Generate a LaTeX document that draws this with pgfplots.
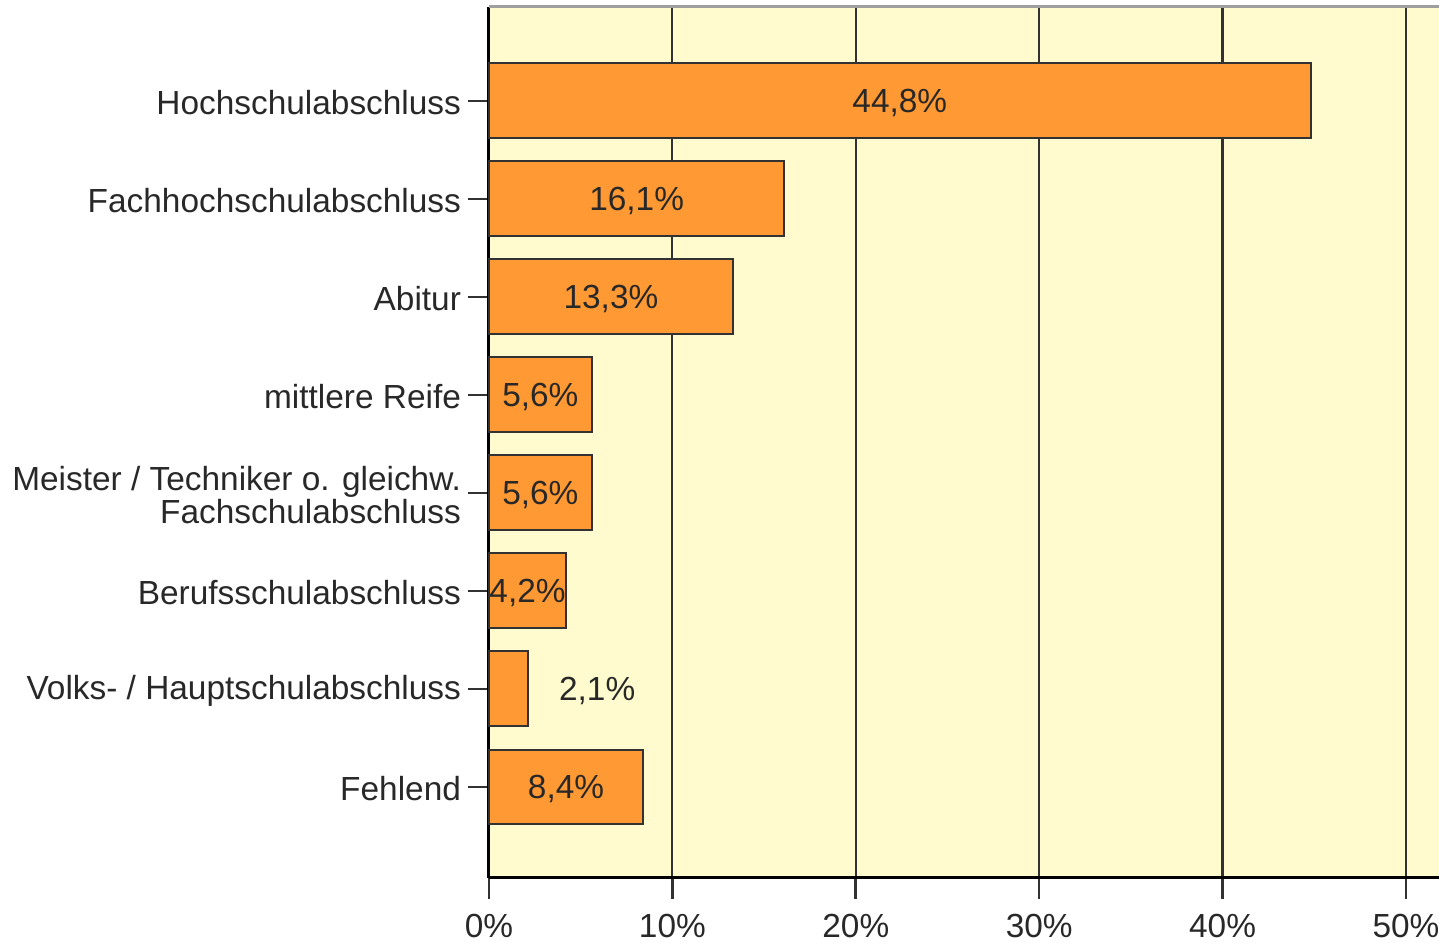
\documentclass[border=0pt]{standalone}
\usepackage{fontspec}
\setmainfont{Liberation Sans}
\usepackage{pgfplots}
\pgfplotsset{compat=1.18}
\definecolor{barorange}{RGB}{255,153,51}
\definecolor{bgyellow}{RGB}{255,251,206}
\definecolor{gridc}{RGB}{50,50,50}
\definecolor{txt}{RGB}{40,40,40}
\begin{document}
\begin{tikzpicture}
\useasboundingbox (-244.5pt,-33.5pt) rectangle (475pt,439pt);
\begin{axis}[
  at={(0pt,0pt)}, anchor=south west,
  scale only axis, width=475pt, height=435.5pt,
  xmin=0, xmax=51.8, ymin=0.0714, ymax=8.959,
  axis x line=bottom, axis y line=left,
  axis line style={-, line width=1.5pt, black},
  axis background/.style={fill=bgyellow},
  xtick={0,10,20,30,40,50},
  xticklabels={0\%,10\%,20\%,30\%,40\%,50\%},
  ytick={1,2,3,4,5,6,7,8},
  yticklabels={Fehlend,Volks- / Hauptschulabschluss,Berufsschulabschluss,{Meister / Techniker o. gleichw.\\Fachschulabschluss},mittlere Reife,Abitur,Fachhochschulabschluss,Hochschulabschluss},
  tick align=outside,
  major tick length=10.5pt,
  tick style={line width=1.3pt, gridc},
  xmajorgrids, grid style={line width=1.1pt, gridc},
  every tick label/.append style={font=\fontsize{16.7}{16.5}\selectfont, text=txt},
  yticklabel style={align=right, yshift=-1pt},
  xticklabel style={yshift=-4.2pt},
  clip=false,
]
\addplot[xbar, bar width=0.765, fill=barorange, draw=gridc, line width=1pt]
  coordinates {(44.8,8) (16.1,7) (13.3,6) (5.6,5) (5.6,4) (4.2,3) (2.1,2) (8.4,1)};
\addplot[only marks, mark=none, point meta=explicit symbolic,
  nodes near coords={\pgfplotspointmeta\%}, nodes near coords align=center,
  every node near coord/.append style={font=\fontsize{16.7}{16.5}\selectfont, text=txt, anchor=center, yshift=-1pt}]
  coordinates {(22.4,8) [44,8] (8.05,7) [16,1] (6.65,6) [13,3] (2.8,5) [5,6] (2.8,4) [5,6] (2.1,3) [4,2] (5.9,2) [2,1] (4.2,1) [8,4]};
\draw[line width=1.5pt, gray!75] (rel axis cs:0,1) -- (rel axis cs:1,1);
\end{axis}
\end{tikzpicture}
\end{document}
